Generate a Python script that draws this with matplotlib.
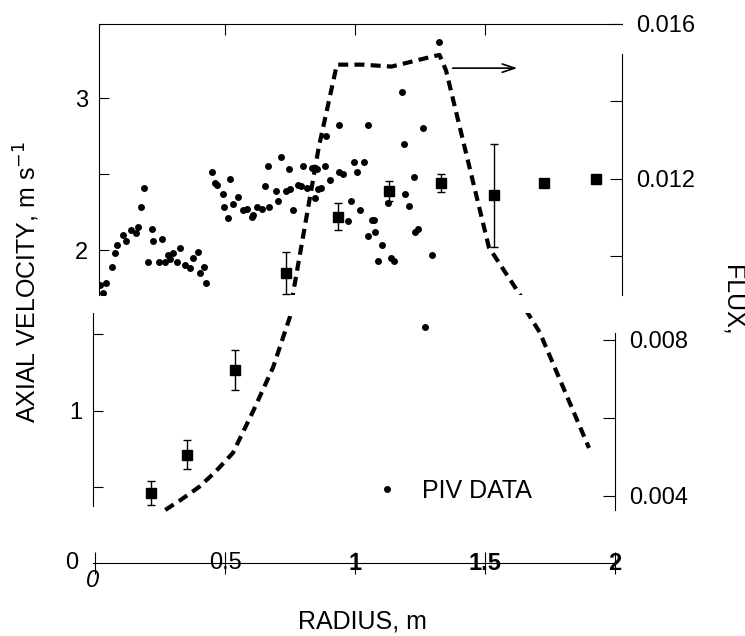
import numpy as np
import matplotlib
matplotlib.use('Agg')
from matplotlib import pyplot as plt
from matplotlib import transforms

plt.rcParams['font.family'] = ['Liberation Sans', 'DejaVu Sans']

# PIV data (radius m, axial velocity m/s)
piv_r = [0.019, 0.042, 0.031, 0.065, 0.077, 0.085, 0.108, 0.119, 0.138, 0.158, 0.165,
         0.177, 0.188, 0.204, 0.219, 0.223, 0.258, 0.246, 0.269, 0.281, 0.288, 0.300,
         0.315, 0.327, 0.346, 0.365, 0.377, 0.396, 0.404, 0.419, 0.427,
         0.450, 0.462, 0.469, 0.519, 0.492, 0.496, 0.512, 0.531, 0.550, 0.569, 0.585,
         0.604, 0.608, 0.623, 0.642, 0.654, 0.665, 0.669, 0.696, 0.704, 0.715, 0.735,
         0.746, 0.762, 0.750, 0.781, 0.792, 0.800, 0.815, 0.835, 0.854, 0.858, 0.869,
         0.885, 0.888, 0.846, 0.904, 0.938, 0.938, 0.954, 0.973, 0.985, 0.996, 1.008,
         1.019, 1.035, 1.050, 1.050, 1.065,
         1.181, 1.262, 1.188, 1.227, 1.192, 1.208, 1.127, 1.073, 1.077, 1.104, 1.088,
         1.138, 1.150, 1.242, 1.231, 1.296, 1.323, 1.269]
piv_v = [1.77, 1.78, 1.72, 1.89, 1.98, 2.03, 2.10, 2.06, 2.13, 2.11, 2.15,
         2.28, 2.41, 1.92, 2.14, 2.06, 2.07, 1.92, 1.92, 1.97, 1.94, 1.98,
         1.92, 2.01, 1.90, 1.88, 1.95, 1.99, 1.85, 1.89, 1.78,
         2.51, 2.44, 2.43, 2.47, 2.37, 2.28, 2.21, 2.30, 2.35, 2.26, 2.27,
         2.22, 2.23, 2.28, 2.27, 2.42, 2.55, 2.28, 2.39, 2.32, 2.61, 2.39,
         2.53, 2.26, 2.40, 2.43, 2.42, 2.55, 2.41, 2.54, 2.53, 2.40, 2.41,
         2.55, 2.75, 2.34, 2.46, 2.51, 2.82, 2.50, 2.19, 2.32, 2.58, 2.51,
         2.26, 2.58, 2.82, 2.09, 2.20,
         3.04, 2.80, 2.70, 2.48, 2.37, 2.29, 2.31, 2.20, 2.12, 2.03, 1.93,
         1.95, 1.93, 2.14, 2.12, 1.97, 3.37, 1.55]

# mean velocity with error bars
sq_r = [0.215, 0.354, 0.538, 0.735, 0.935, 1.13, 1.33, 1.535, 1.727, 1.927]
sq_v = [0.46, 0.71, 1.265, 1.85, 2.22, 2.39, 2.44, 2.36, 2.44, 2.47]
sq_err = [0.08, 0.095, 0.13, 0.14, 0.09, 0.065, 0.06, 0.34, 0.0, 0.0]

# flux curve (right axis)
flux_r = [0.27, 0.33, 0.40, 0.46, 0.53, 0.61, 0.685, 0.75, 0.86, 0.93, 1.03,
          1.14, 1.31, 1.325, 1.35, 1.515, 1.635, 1.71, 1.90]
flux = [0.00364, 0.0039, 0.00423, 0.0046, 0.0051, 0.0062, 0.0073, 0.0086, 0.0128,
        0.01495, 0.01495, 0.0149, 0.01518, 0.0152, 0.0148, 0.01023, 0.0090, 0.0082,
        0.00523]

fs = 17
fig = plt.figure(figsize=(7.45, 6.36), dpi=100)
ax_up = fig.add_axes([99/745, 1-295/636, 523/745, 271/636])
ax_lo = fig.add_axes([93/745, 1-563/636, 522/745, 250/636])
tw_up = ax_up.twinx()
tw_lo = ax_lo.twinx()

for ax in (ax_up, ax_lo):
    ax.plot(piv_r, piv_v, 'o', color='black', ms=5, mew=0, label='PIV DATA')
    ax.errorbar(sq_r, sq_v, yerr=sq_err, fmt='s', color='black', ms=7,
                elinewidth=1, capsize=3, capthick=1)
for tw in (tw_up, tw_lo):
    tw.plot(flux_r, flux, color='black', lw=3, dashes=(2.4, 1.5))

ax_up.set_xlim(0.015, 2.027)
ax_lo.set_xlim(-0.008, 2.0)
ax_up.set_ylim(1.704, 3.487)
tw_up.set_ylim(0.0090, 0.0160)
ax_lo.set_ylim(0, 1.64)
tw_lo.set_ylim(0.00228, 0.00869)

# upper panel frame
for ax in (ax_up, tw_up):
    ax.spines['bottom'].set_visible(False)
ax_up.spines['right'].set_visible(False)
tw_up.spines['left'].set_visible(False)
tw_up.spines['top'].set_visible(False)
tw_up.spines['right'].set_bounds(0.0090, 0.01523)
ax_up.xaxis.set_ticks_position('top')
ax_up.set_xticks([0.5, 1, 1.5])
ax_up.tick_params(axis='x', direction='in', length=8, labeltop=False)
ax_up.set_yticks([2, 2.5, 3])
ax_up.set_yticklabels(['2', '', '3'])
ax_up.tick_params(axis='y', direction='in', length=7, labelsize=fs, pad=8)
tw_up.set_yticks([0.010, 0.012, 0.014, 0.016])
tw_up.set_yticklabels(['', '0.012', '', '0.016'])
tw_up.tick_params(axis='y', direction='in', length=9, labelsize=fs, pad=10)

# lower panel frame
ax_lo.spines['top'].set_visible(False)
ax_lo.spines['right'].set_visible(False)
tw_lo.spines['top'].set_visible(False)
tw_lo.spines['left'].set_visible(False)
tw_lo.spines['bottom'].set_visible(False)
ax_lo.spines['left'].set_bounds(0.374, 1.64)
tw_lo.spines['right'].set_bounds(0.00364, 0.00818)
ax_lo.set_yticks([0.5, 1, 1.5])
ax_lo.set_yticklabels(['', '1', ''])
ax_lo.tick_params(axis='y', direction='in', length=7, labelsize=fs, pad=8)
tw_lo.set_yticks([0.004, 0.006, 0.008])
tw_lo.set_yticklabels(['0.004', '', '0.008'])
tw_lo.tick_params(axis='y', direction='in', length=9, labelsize=fs, pad=10)
ax_lo.set_xticks([0, 0.5, 1, 1.5, 2])
ax_lo.set_xticklabels([])
ax_lo.tick_params(axis='x', direction='inout', length=16)

# x tick labels sit on the axis line
trans = transforms.blended_transform_factory(ax_lo.transData, ax_lo.transAxes)
xlabels = [(0.5, '0.5', 'normal'), (1, '1', 'bold'), (1.5, '1.5', 'bold'), (2, '2', 'bold')]
for xv, txt, fw in xlabels:
    ax_lo.text(xv, 0, txt, transform=trans, ha='center', va='center',
               fontsize=fs, fontweight=fw)
ax_lo.text(-0.01, -0.07, '0', transform=trans, ha='center', va='center',
           fontsize=fs, style='italic')
ax_lo.text(-0.09, 0, '0', transform=trans, ha='center', va='center', fontsize=fs)

tw_up.annotate('', xy=(1.635, 0.01486), xytext=(1.365, 0.01486),
               arrowprops=dict(arrowstyle='->,head_length=0.9,head_width=0.3',
                               lw=1.2, color='black'))

ax_lo.legend(loc='center left', bbox_to_anchor=(0.54, 0.29), frameon=False,
             fontsize=18, handlelength=1, handletextpad=0.9, borderpad=0,
             borderaxespad=0, markerscale=1)

fig.text(27/745, 1-282/636, 'AXIAL VELOCITY, m s$^{-1}$', rotation=90,
         ha='center', va='center', fontsize=18)
fig.text(733/745, 1-300/636, 'FLUX,', rotation=-90, ha='center', va='center',
         fontsize=18)
fig.text(362/745, 1-622/636, 'RADIUS, m', ha='center', va='center', fontsize=18)

fig.savefig('out.png', dpi=100)
